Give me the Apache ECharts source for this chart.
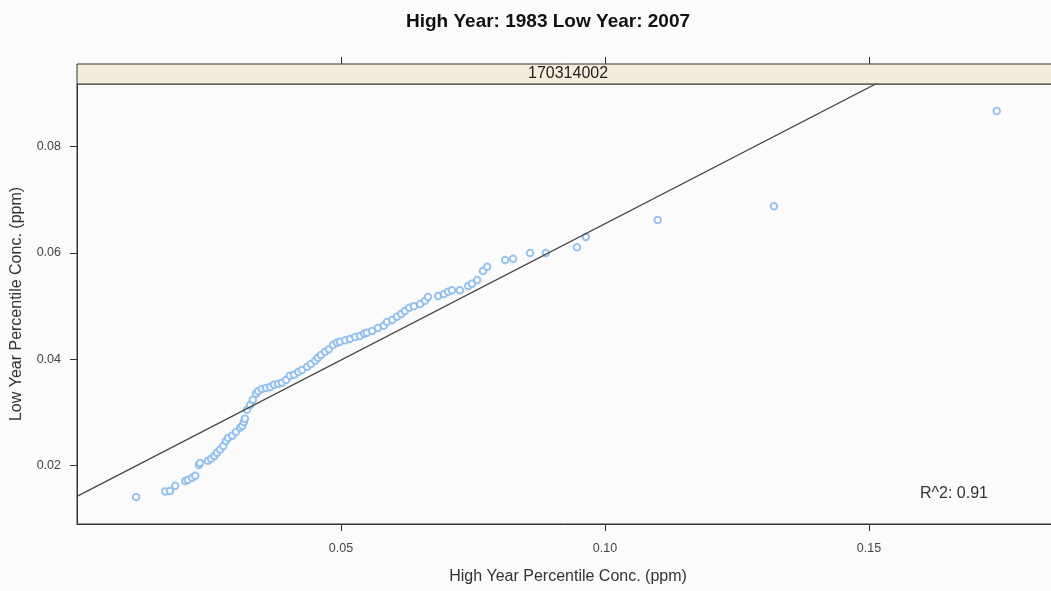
<!DOCTYPE html>
<html><head><meta charset="utf-8">
<script src="https://cdn.jsdelivr.net/npm/echarts@6/dist/echarts.min.js"></script>
<style>html,body{margin:0;padding:0;background:#fbfbfb;overflow:hidden}#c{width:1051px;height:591px}</style>
</head><body><div id="c"></div>
<script>
const chartTitle = 'High Year: 1983 Low Year: 2007';
const panelLabel = '170314002';
const xName = 'High Year Percentile Conc. (ppm)';
const yName = 'Low Year Percentile Conc. (ppm)';
const rSquaredText = 'R^2: 0.91';

// QQ pairs (sorted percentiles)
const highYear = [0.0112,0.0167,0.0176,0.0186,0.0205,0.0210,0.0218,0.0224,0.0231,0.0233,
  0.0248,0.0254,0.0260,0.0265,0.0271,0.0277,0.0282,0.0286,0.0294,0.0301,
  0.0309,0.0313,0.0316,0.0318,0.0322,0.0328,0.0333,0.0339,0.0343,0.0350,
  0.0358,0.0366,0.0373,0.0381,0.0388,0.0396,0.0403,0.0411,0.0419,0.0426,
  0.0436,0.0443,0.0451,0.0456,0.0462,0.0470,0.0477,0.0485,0.0492,0.0498,
  0.0508,0.0517,0.0527,0.0536,0.0544,0.0549,0.0559,0.0570,0.0581,0.0587,
  0.0597,0.0606,0.0614,0.0621,0.0629,0.0638,0.0650,0.0659,0.0665,0.0684,
  0.0695,0.0703,0.0710,0.0725,0.0741,0.0748,0.0758,0.0769,0.0777,0.0811,
  0.0826,0.0858,0.0888,0.0947,0.0964,0.1100,0.1320,0.1742];
const lowYear = [0.0141,0.0151,0.0152,0.0162,0.0171,0.0173,0.0177,0.0181,0.0201,0.0205,
  0.0209,0.0213,0.0218,0.0224,0.0230,0.0237,0.0246,0.0252,0.0256,0.0263,
  0.0271,0.0275,0.0282,0.0288,0.0305,0.0314,0.0324,0.0335,0.0340,0.0344,
  0.0346,0.0348,0.0352,0.0354,0.0356,0.0361,0.0369,0.0371,0.0376,0.0380,
  0.0386,0.0391,0.0397,0.0403,0.0408,0.0414,0.0419,0.0427,0.0431,0.0433,
  0.0436,0.0438,0.0442,0.0444,0.0448,0.0450,0.0453,0.0459,0.0463,0.0470,
  0.0474,0.0480,0.0485,0.0491,0.0497,0.0500,0.0504,0.0510,0.0517,0.0519,
  0.0523,0.0527,0.0530,0.0530,0.0538,0.0542,0.0549,0.0566,0.0574,0.0587,
  0.0589,0.0600,0.0600,0.0611,0.0630,0.0662,0.0688,0.0867];

const fitIntercept = 0.0142;
const fitSlope = 0.513;

const xTicks = [0.05, 0.10, 0.15];
const yTicks = [0.02, 0.04, 0.06, 0.08];
const xRange = [0, 0.186];
const yRange = [0.009, 0.0918];

const points = highYear.map((x, i) => [x, lowYear[i]]);
const fitLine = [
  [xRange[0], fitIntercept + fitSlope * xRange[0]],
  [xRange[1], fitIntercept + fitSlope * xRange[1]]
];

const FONT = 'Liberation Sans, Arial, sans-serif';
const chart = echarts.init(document.getElementById('c'), null, {renderer: 'canvas'});
chart.setOption({
  backgroundColor: '#fbfbfb',
  animation: false,
  title: {
    text: chartTitle, left: 543, top: 7, textAlign: 'center',
    textStyle: {fontFamily: FONT, fontSize: 19, fontWeight: 'bold', color: '#111'}
  },
  grid: [
    {left: 77, width: 982, top: 84, bottom: 67, show: true, borderColor: '#333', borderWidth: 1,
      backgroundColor: 'transparent', containLabel: false, outerBoundsMode: 'none'},
    {left: 77, width: 982, top: 64, height: 20, show: true, borderColor: '#333', borderWidth: 1,
      backgroundColor: '#f4eddc', containLabel: false, outerBoundsMode: 'none'}
  ],
  xAxis: [
    {
      type: 'value', gridIndex: 0, min: xRange[0], max: xRange[1],
      name: xName, nameLocation: 'middle', nameGap: 45,
      nameTextStyle: {fontFamily: FONT, fontSize: 16, color: '#333'},
      axisLine: {show: true, onZero: false, lineStyle: {color: '#333'}},
      axisTick: {show: true, length: 7, inside: false, customValues: xTicks, lineStyle: {color: '#333'}},
      axisLabel: {show: true, margin: 18, customValues: xTicks, fontFamily: FONT, fontSize: 12.5, color: '#444',
        formatter: v => v.toFixed(2)},
      splitLine: {show: false}
    },
    {
      type: 'value', gridIndex: 1, min: xRange[0], max: xRange[1], position: 'top',
      axisLine: {show: false, onZero: false},
      axisTick: {show: true, length: 7, inside: false, customValues: xTicks, lineStyle: {color: '#333'}},
      axisLabel: {show: false},
      splitLine: {show: false}
    }
  ],
  yAxis: [
    {
      type: 'value', gridIndex: 0, min: yRange[0], max: yRange[1],
      name: yName, nameLocation: 'middle', nameGap: 52,
      nameTextStyle: {fontFamily: FONT, fontSize: 16, color: '#333'},
      axisLine: {show: true, onZero: false, lineStyle: {color: '#333'}},
      axisTick: {show: true, length: 7, inside: false, customValues: yTicks, lineStyle: {color: '#333'}},
      axisLabel: {show: true, margin: 16, customValues: yTicks, fontFamily: FONT, fontSize: 12.5, color: '#444',
        formatter: v => v.toFixed(2)},
      splitLine: {show: false}
    },
    {type: 'value', gridIndex: 1, min: 0, max: 1, show: false}
  ],
  graphic: [
    {type: 'text', left: 528, top: 66, style: {text: panelLabel, fontFamily: FONT, fontSize: 16, fill: '#222'}},
    {type: 'text', left: 920, top: 486, style: {text: rSquaredText, fontFamily: FONT, fontSize: 16, fill: '#333'}}
  ],
  series: [
    {
      type: 'line', xAxisIndex: 0, yAxisIndex: 0, data: fitLine, clip: true,
      showSymbol: false, symbol: 'none',
      lineStyle: {color: '#444', width: 1.2}, silent: true
    },
    {
      type: 'scatter', xAxisIndex: 0, yAxisIndex: 0, data: points,
      symbol: 'emptyCircle', symbolSize: 6.5,
      itemStyle: {color: '#86b9ec', borderWidth: 1, opacity: 0.85}
    }
  ]
});
</script></body></html>
